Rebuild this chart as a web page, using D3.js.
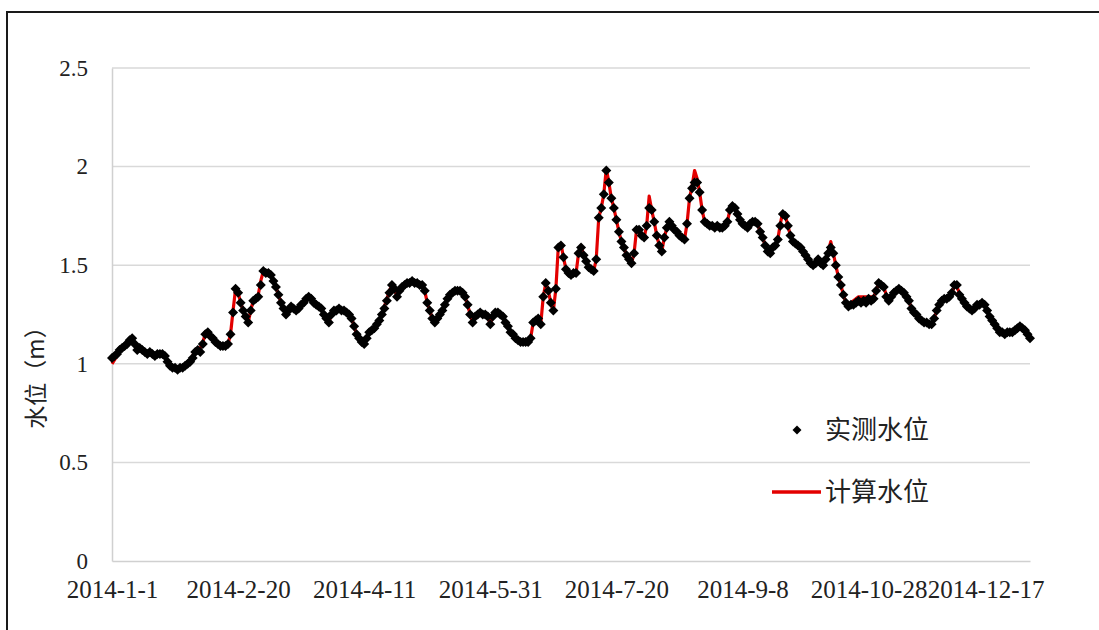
<!DOCTYPE html>
<html>
<head>
<meta charset="utf-8">
<script src="https://cdn.jsdelivr.net/npm/d3@7"></script>
<style>
  html, body { margin: 0; padding: 0; background: #fff; }
  svg { display: block; }
</style>
</head>
<body>
<svg id="chart" width="1099" height="630"></svg>
<script>
// Daily water level, 2014-01-01 .. 2014-12-31 (365 days)
const startDate = "2014-01-01";

// 实测水位 (observed), m
const observed = [
  1.03, 1.04, 1.05, 1.07, 1.08, 1.09, 1.10, 1.12, 1.13, 1.10,
  1.07, 1.08, 1.07, 1.06, 1.05, 1.06, 1.05, 1.04, 1.05, 1.05,
  1.05, 1.04, 1.01, 0.99, 0.98, 0.98, 0.97, 0.98, 0.98, 0.99,
  1.00, 1.01, 1.03, 1.06, 1.07, 1.06, 1.10, 1.15, 1.16, 1.14,
  1.13, 1.11, 1.10, 1.09, 1.09, 1.09, 1.10, 1.15, 1.26, 1.38,
  1.36, 1.31, 1.27, 1.24, 1.21, 1.27, 1.32, 1.33, 1.34, 1.40,
  1.47, 1.46, 1.46, 1.45, 1.42, 1.39, 1.35, 1.31, 1.28, 1.25,
  1.27, 1.29, 1.28, 1.27, 1.28, 1.30, 1.31, 1.33, 1.34, 1.33,
  1.31, 1.30, 1.29, 1.28, 1.25, 1.23, 1.21, 1.25, 1.27, 1.27,
  1.28, 1.27, 1.27, 1.26, 1.25, 1.23, 1.19, 1.15, 1.13, 1.11,
  1.10, 1.13, 1.16, 1.17, 1.18, 1.20, 1.22, 1.25, 1.28, 1.32,
  1.36, 1.40, 1.38, 1.34, 1.37, 1.39, 1.40, 1.41, 1.41, 1.42,
  1.41, 1.41, 1.40, 1.40, 1.37, 1.31, 1.27, 1.23, 1.21, 1.23,
  1.25, 1.27, 1.30, 1.33, 1.35, 1.36, 1.37, 1.37, 1.37, 1.36,
  1.34, 1.30, 1.25, 1.21, 1.24, 1.25, 1.26, 1.25, 1.25, 1.24,
  1.20, 1.24, 1.26, 1.26, 1.25, 1.24, 1.21, 1.19, 1.16, 1.15,
  1.13, 1.12, 1.11, 1.11, 1.11, 1.11, 1.13, 1.21, 1.22, 1.23,
  1.20, 1.34, 1.41, 1.37, 1.31, 1.27, 1.38, 1.59, 1.60, 1.54,
  1.48, 1.46, 1.45, 1.46, 1.46, 1.56, 1.59, 1.55, 1.52, 1.49,
  1.48, 1.47, 1.53, 1.74, 1.79, 1.86, 1.98, 1.92, 1.84, 1.79,
  1.73, 1.67, 1.62, 1.59, 1.55, 1.53, 1.51, 1.56, 1.68, 1.68,
  1.65, 1.64, 1.70, 1.79, 1.78, 1.72, 1.65, 1.60, 1.57, 1.64,
  1.69, 1.72, 1.70, 1.68, 1.67, 1.65, 1.64, 1.63, 1.71, 1.84,
  1.89, 1.92, 1.92, 1.87, 1.78, 1.72, 1.71, 1.70, 1.70, 1.69,
  1.70, 1.69, 1.69, 1.70, 1.72, 1.78, 1.80, 1.79, 1.76, 1.73,
  1.71, 1.70, 1.69, 1.71, 1.72, 1.72, 1.71, 1.67, 1.64, 1.60,
  1.57, 1.56, 1.59, 1.60, 1.63, 1.70, 1.76, 1.75, 1.70, 1.65,
  1.62, 1.61, 1.60, 1.59, 1.57, 1.55, 1.53, 1.51, 1.50, 1.51,
  1.53, 1.51, 1.50, 1.53, 1.56, 1.59, 1.56, 1.50, 1.44, 1.40,
  1.35, 1.31, 1.29, 1.30, 1.30, 1.31, 1.32, 1.31, 1.32, 1.31,
  1.33, 1.32, 1.33, 1.37, 1.41, 1.40, 1.39, 1.34, 1.32, 1.34,
  1.36, 1.37, 1.38, 1.37, 1.36, 1.34, 1.32, 1.28, 1.26, 1.25,
  1.23, 1.22, 1.21, 1.21, 1.20, 1.20, 1.23, 1.27, 1.30, 1.32,
  1.33, 1.33, 1.34, 1.36, 1.40, 1.40, 1.35, 1.33, 1.31, 1.29,
  1.28, 1.27, 1.28, 1.30, 1.30, 1.31, 1.30, 1.27, 1.24, 1.22,
  1.20, 1.18, 1.16, 1.16, 1.15, 1.16, 1.16, 1.16, 1.17, 1.18,
  1.19, 1.18, 1.17, 1.15, 1.13
];

// 计算水位 (computed), m
const computed = [
  1.00, 1.02, 1.04, 1.06, 1.08, 1.09, 1.10, 1.12, 1.13, 1.10,
  1.07, 1.08, 1.07, 1.06, 1.05, 1.06, 1.05, 1.04, 1.05, 1.05,
  1.05, 1.04, 1.01, 0.99, 0.98, 0.98, 0.97, 0.98, 0.98, 0.99,
  1.00, 1.01, 1.04, 1.07, 1.08, 1.08, 1.11, 1.15, 1.16, 1.14,
  1.13, 1.11, 1.10, 1.09, 1.09, 1.09, 1.10, 1.15, 1.27, 1.38,
  1.36, 1.31, 1.27, 1.24, 1.21, 1.27, 1.32, 1.33, 1.35, 1.42,
  1.47, 1.47, 1.47, 1.46, 1.42, 1.39, 1.35, 1.31, 1.28, 1.25,
  1.27, 1.29, 1.28, 1.27, 1.28, 1.30, 1.31, 1.33, 1.34, 1.33,
  1.31, 1.30, 1.29, 1.28, 1.25, 1.23, 1.21, 1.25, 1.27, 1.27,
  1.28, 1.27, 1.27, 1.26, 1.25, 1.23, 1.19, 1.15, 1.13, 1.11,
  1.10, 1.13, 1.16, 1.17, 1.18, 1.20, 1.22, 1.25, 1.29, 1.33,
  1.37, 1.40, 1.38, 1.34, 1.37, 1.39, 1.40, 1.41, 1.42, 1.42,
  1.41, 1.41, 1.40, 1.40, 1.37, 1.31, 1.27, 1.23, 1.21, 1.23,
  1.25, 1.27, 1.30, 1.33, 1.35, 1.36, 1.37, 1.38, 1.38, 1.36,
  1.34, 1.30, 1.25, 1.21, 1.24, 1.25, 1.26, 1.26, 1.26, 1.24,
  1.20, 1.24, 1.26, 1.26, 1.25, 1.24, 1.21, 1.19, 1.16, 1.15,
  1.13, 1.12, 1.11, 1.12, 1.12, 1.12, 1.13, 1.21, 1.22, 1.23,
  1.20, 1.34, 1.41, 1.37, 1.31, 1.27, 1.38, 1.60, 1.61, 1.54,
  1.48, 1.46, 1.45, 1.46, 1.46, 1.56, 1.60, 1.55, 1.52, 1.49,
  1.48, 1.47, 1.53, 1.74, 1.79, 1.86, 1.99, 1.92, 1.84, 1.79,
  1.73, 1.67, 1.62, 1.59, 1.55, 1.53, 1.51, 1.56, 1.68, 1.68,
  1.65, 1.64, 1.70, 1.85, 1.78, 1.72, 1.65, 1.60, 1.57, 1.64,
  1.69, 1.72, 1.70, 1.68, 1.67, 1.65, 1.64, 1.63, 1.71, 1.84,
  1.90, 1.98, 1.94, 1.87, 1.78, 1.72, 1.71, 1.70, 1.70, 1.69,
  1.70, 1.69, 1.69, 1.70, 1.72, 1.78, 1.81, 1.79, 1.76, 1.73,
  1.71, 1.70, 1.70, 1.71, 1.72, 1.72, 1.71, 1.67, 1.64, 1.60,
  1.57, 1.56, 1.59, 1.60, 1.63, 1.71, 1.77, 1.75, 1.70, 1.65,
  1.62, 1.61, 1.60, 1.59, 1.57, 1.55, 1.53, 1.51, 1.50, 1.51,
  1.53, 1.51, 1.50, 1.53, 1.57, 1.62, 1.56, 1.50, 1.44, 1.40,
  1.35, 1.31, 1.29, 1.31, 1.32, 1.33, 1.34, 1.34, 1.34, 1.34,
  1.34, 1.34, 1.34, 1.37, 1.41, 1.40, 1.39, 1.35, 1.33, 1.35,
  1.37, 1.38, 1.39, 1.37, 1.36, 1.34, 1.32, 1.28, 1.26, 1.25,
  1.23, 1.22, 1.21, 1.21, 1.20, 1.20, 1.23, 1.27, 1.30, 1.32,
  1.33, 1.33, 1.34, 1.36, 1.39, 1.39, 1.36, 1.34, 1.31, 1.29,
  1.28, 1.27, 1.28, 1.30, 1.30, 1.31, 1.30, 1.27, 1.24, 1.22,
  1.20, 1.18, 1.16, 1.16, 1.15, 1.16, 1.16, 1.16, 1.17, 1.18,
  1.19, 1.18, 1.17, 1.15, 1.13
];

const yTicks = [0, 0.5, 1, 1.5, 2, 2.5];
const xTickLabels = ["2014-1-1", "2014-2-20", "2014-4-11", "2014-5-31",
                     "2014-7-20", "2014-9-8", "2014-10-28", "2014-12-17"];
const yTitle = "水位（m）";
const legendLabels = ["实测水位", "计算水位"];

// ---- layout ----
const svg = d3.select("#chart");
const plot = { left: 112, right: 1030, top: 68, bottom: 561 };

const parseISO = d3.timeParse("%Y-%m-%d");
const parseLabel = d3.timeParse("%Y-%-m-%-d");
const t0 = parseISO(startDate);
const dates = observed.map((_, i) => d3.timeDay.offset(t0, i));

const x = d3.scaleTime()
  .domain([t0, dates[dates.length - 1]])
  .range([plot.left, plot.right]);
const y = d3.scaleLinear()
  .domain([0, 2.5])
  .range([plot.bottom, plot.top]);

const serif = "'Liberation Serif', 'Times New Roman', serif";
const cjk = "'Noto Sans CJK SC', sans-serif";

// outer frame
svg.append("rect")
  .attr("x", 7).attr("y", 12)
  .attr("width", 1200).attr("height", 700)
  .attr("fill", "none").attr("stroke", "#1a1a1a").attr("stroke-width", 2);

// horizontal gridlines
svg.append("g")
  .selectAll("line")
  .data(yTicks.filter(v => v > 0))
  .join("line")
  .attr("x1", plot.left).attr("x2", plot.right)
  .attr("y1", d => y(d)).attr("y2", d => y(d))
  .attr("stroke", "#d9d9d9").attr("stroke-width", 1.5);

// y axis
const yAxis = svg.append("g")
  .attr("transform", `translate(${plot.left},0)`)
  .call(d3.axisLeft(y).tickValues(yTicks).tickSize(0).tickPadding(24)
        .tickFormat(d3.format("")));
yAxis.select(".domain").attr("stroke", "#d0d0d0").attr("stroke-width", 1.5);
yAxis.selectAll("text")
  .attr("font-family", serif)
  .attr("font-size", 23).attr("fill", "#222");

// x axis
const xAxis = svg.append("g")
  .attr("transform", `translate(0,${plot.bottom})`)
  .call(d3.axisBottom(x)
        .tickValues(xTickLabels.map(s => parseLabel(s)))
        .tickSize(0).tickPadding(19)
        .tickFormat(d => `${d.getFullYear()}-${d.getMonth() + 1}-${d.getDate()}`));
xAxis.select(".domain").attr("stroke", "#d0d0d0").attr("stroke-width", 1.5);
xAxis.selectAll("text")
  .attr("font-family", serif)
  .attr("font-size", 25).attr("fill", "#222")
  .attr("dx", (d, i, n) => i === n.length - 1 ? -9 : 0);

// y title
svg.append("text")
  .attr("transform", `translate(44,372) rotate(-90)`)
  .attr("text-anchor", "middle")
  .attr("font-family", cjk)
  .attr("font-size", 23).attr("fill", "#222")
  .text(yTitle);

// computed line
const line = d3.line()
  .x((d, i) => x(dates[i]))
  .y(d => y(d));
svg.append("path")
  .datum(computed)
  .attr("d", line)
  .attr("fill", "none")
  .attr("stroke", "#e30000")
  .attr("stroke-width", 3.2)
  .attr("stroke-linejoin", "round");

// observed markers
const diamond = d3.symbol().type(d3.symbolSquare).size(50);
svg.append("g")
  .selectAll("path")
  .data(observed)
  .join("path")
  .attr("d", diamond)
  .attr("transform", (d, i) => `translate(${x(dates[i])},${y(d)}) rotate(45)`)
  .attr("fill", "#000");

// legend
const lg = svg.append("g");
lg.append("path")
  .attr("d", d3.symbol().type(d3.symbolSquare).size(40))
  .attr("transform", "translate(797,430) rotate(45)")
  .attr("fill", "#000");
lg.append("text")
  .attr("x", 825).attr("y", 430).attr("dy", "0.36em")
  .attr("font-family", cjk)
  .attr("font-size", 26).attr("fill", "#222")
  .text(legendLabels[0]);
lg.append("line")
  .attr("x1", 772).attr("x2", 821)
  .attr("y1", 492).attr("y2", 492)
  .attr("stroke", "#e30000").attr("stroke-width", 3.5);
lg.append("text")
  .attr("x", 825).attr("y", 492).attr("dy", "0.36em")
  .attr("font-family", cjk)
  .attr("font-size", 26).attr("fill", "#222")
  .text(legendLabels[1]);
</script>
</body>
</html>
